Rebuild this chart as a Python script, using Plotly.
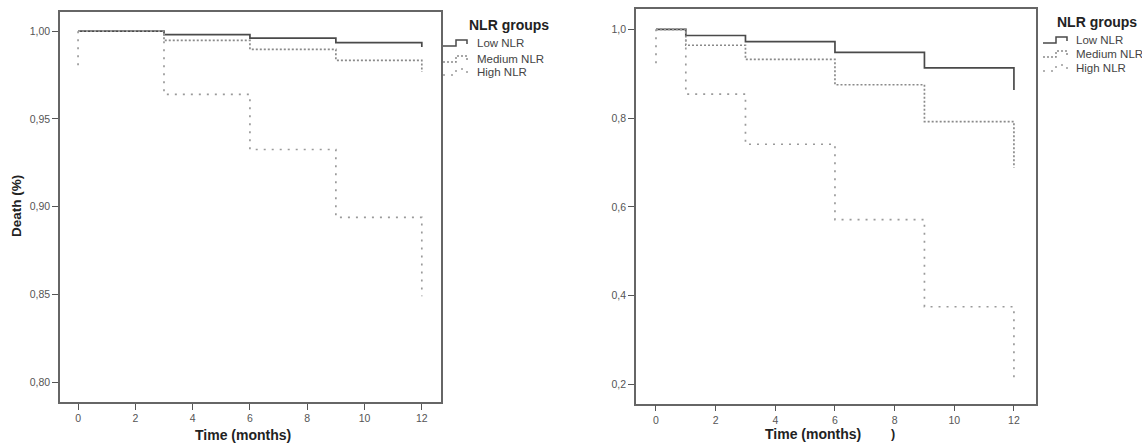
import plotly.graph_objects as go

# ---- data ----
groups = ["Low NLR", "Medium NLR", "High NLR"]

left_time = [0, 3, 6, 9, 12]
left_low = [1.0, 0.998, 0.996, 0.9935, 0.991]
left_medium = [1.0, 0.9947, 0.9896, 0.9834, 0.9767]
left_high = [1.0, 0.964, 0.9326, 0.894, 0.849]
left_spike = [1.0, 0.978]

right_time = [0, 1, 3, 6, 9, 12]
right_low = [1.0, 0.986, 0.972, 0.948, 0.913, 0.863]
right_medium = [1.0, 0.964, 0.932, 0.875, 0.792, 0.688]
right_high = [1.0, 0.854, 0.741, 0.571, 0.375, 0.205]
right_spike = [1.0, 0.92]

x_ticks = [0, 2, 4, 6, 8, 10, 12]
left_yticks = [0.80, 0.85, 0.90, 0.95, 1.00]
right_yticks = [0.2, 0.4, 0.6, 0.8, 1.0]

W, H = 1142, 443
FONT = "Liberation Sans, Arial, sans-serif"
styles = {
    "Low NLR": dict(color="#4a4a4a", width=1.7, dash="solid"),
    "Medium NLR": dict(color="#8a8a8a", width=1.7, dash="2px,2px"),
    "High NLR": dict(color="#9a9a9a", width=1.7, dash="2px,6px"),
}

fig = go.Figure()

def add_panel(xa, ya, times, series, spike):
    for name, vals in zip(groups, series):
        fig.add_trace(go.Scatter(
            x=times, y=vals, mode="lines", line_shape="hv",
            line=styles[name], name=name,
            xaxis=xa, yaxis=ya, showlegend=False))
    fig.add_trace(go.Scatter(
        x=[times[0]] * len(spike), y=spike, mode="lines",
        line=styles["High NLR"], showlegend=False, xaxis=xa, yaxis=ya))

add_panel("x", "y", left_time, [left_low, left_medium, left_high], left_spike)
add_panel("x2", "y2", right_time, [right_low, right_medium, right_high], right_spike)

def fx(px):
    return px / W

def fy(py):
    return 1 - py / H

axis_common = dict(
    showline=True, linecolor="#666666", linewidth=1.6, mirror=True,
    ticks="outside", ticklen=6, tickwidth=1.4, tickcolor="#555555",
    showgrid=False, zeroline=False, automargin=False,
    tickfont=dict(family=FONT, size=10.5, color="#555555"),
)

annotations = []
shapes = []

def text(t, x, y, size=11, color="#444", bold=False, xanchor="center", angle=0):
    annotations.append(dict(
        text=f"<b>{t}</b>" if bold else t, x=fx(x), y=fy(y), xref="paper", yref="paper",
        showarrow=False, xanchor=xanchor, yanchor="middle", textangle=angle,
        font=dict(family=FONT, size=size, color=color)))

# axis titles
text("Time (months)", 243, 435, size=14, color="#222", bold=True)
text("Time (months)", 813, 434, size=14, color="#222", bold=True)
text("Death (%)", 17, 206, size=13.5, color="#222", bold=True, angle=-90)
text(")", 893, 434, size=12.5, color="#222", bold=True)

# manual legends
def legend(x_sym, x_text, y_title, x_title, item_ys):
    text("NLR groups", x_title, y_title, size=14, color="#222", bold=True, xanchor="left")
    for name, yy in zip(groups, item_ys):
        text(name, x_text, yy, size=11.5, color="#444", xanchor="left")
        st = styles[name]
        x0, x1, x2 = x_sym, x_sym + 13, x_sym + 24
        y_lo, y_hi = yy + 3, yy - 3
        path = (f"M {fx(x0)},{fy(y_lo)} L {fx(x1)},{fy(y_lo)} L {fx(x1)},{fy(y_hi)} "
                f"L {fx(x2)},{fy(y_hi)} L {fx(x2)},{fy(yy + 1)}")
        shapes.append(dict(type="path", path=path, xref="paper", yref="paper",
                           line=dict(color=st["color"], width=1.5, dash=st["dash"])))

legend(443, 475, 25, 467, [43, 59, 72])
legend(1043, 1074, 22, 1055, [40, 54, 68])

fig.update_layout(
    width=W, height=H,
    margin=dict(l=0, r=0, t=0, b=0),
    paper_bgcolor="white", plot_bgcolor="white",
    separators=", ",
    font=dict(family=FONT, color="#222222"),
    showlegend=False,
    xaxis=dict(domain=[fx(60), fx(441)], range=[-0.63, 12.67], tickvals=x_ticks,
               anchor="y", **axis_common),
    yaxis=dict(domain=[fy(402), fy(11.5)], range=[0.7888, 1.0112], tickvals=left_yticks,
               tickformat=".2f", anchor="x", **axis_common),
    xaxis2=dict(domain=[fx(636), fx(1036)], range=[-0.67, 12.74], tickvals=x_ticks,
                anchor="y2", **axis_common),
    yaxis2=dict(domain=[fy(403.5), fy(9.3)], range=[0.157, 1.045], tickvals=right_yticks,
                tickformat=".1f", anchor="x2", **axis_common),
    annotations=annotations,
    shapes=shapes,
)

fig.write_html(
    "out.html",
    config={"displayModeBar": False},
    post_script="document.body.style.margin='0';document.body.style.overflow='hidden';",
)
